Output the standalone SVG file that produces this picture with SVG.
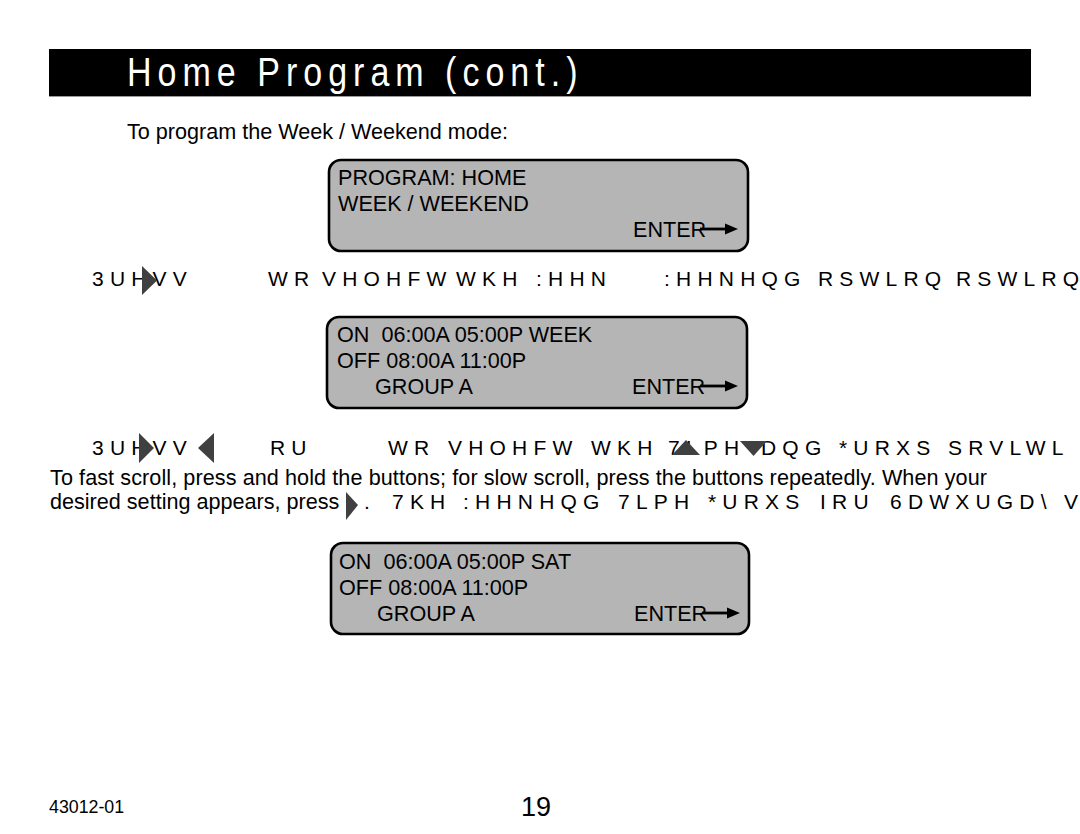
<svg xmlns="http://www.w3.org/2000/svg" width="1080" height="834" viewBox="0 0 1080 834">
<style>
.t{font-family:"Liberation Sans",Arial,Helvetica,sans-serif;font-size:21.6px;fill:#000}
.g{font-family:"Liberation Sans",Arial,Helvetica,sans-serif;font-size:21px;letter-spacing:6.2px;fill:#000}
.lcd{fill:#b5b5b5;stroke:#000;stroke-width:2.6}
.tri{fill:#404040}
.title{font-family:"Liberation Sans",Arial,Helvetica,sans-serif;font-size:40px;fill:#fff}
.foot{font-family:"Liberation Sans",Arial,Helvetica,sans-serif;fill:#000}
</style>
<defs>
<g id="enterArrow"><rect x="0" y="-1.4" width="27" height="2.8" fill="#000"/><polygon points="25,-5.5 38,0 25,5.5" fill="#000"/></g>
</defs>
<rect x="0" y="0" width="1080" height="834" fill="#fff"/>
<g id="title">
<rect x="49" y="49" width="982" height="47" fill="#000"/>
<line x1="49" y1="96.5" x2="1031" y2="96.5" stroke="#999" stroke-width="1"/>
<g transform="translate(127,86) scale(0.85,1)">
<text class="title" x="0" y="0" textLength="530">Home Program (cont.)</text>
</g>
</g>
<text class="t" x="127" y="139">To program the Week / Weekend mode:</text>

<g id="lcd1">
<rect class="lcd" x="329" y="160" width="419" height="91" rx="12"/>
<text class="t" x="338" y="185">PROGRAM: HOME</text>
<text class="t" x="338" y="211">WEEK / WEEKEND</text>
<text class="t" x="633" y="237">ENTER</text>
<use href="#enterArrow" x="700" y="229"/>
</g>

<g id="step1">
<text class="g" y="286"><tspan x="92">3UHVV</tspan><tspan x="268">WR</tspan><tspan x="322">VHOHFW</tspan><tspan x="456">WKH</tspan><tspan x="536">:HHN</tspan><tspan x="664">:HHNHQG</tspan><tspan x="818">RSWLRQ</tspan><tspan x="956">RSWLRQ</tspan></text>
<polygon class="tri" points="142,266 157,280.5 142,295"/>
</g>

<g id="lcd2">
<rect class="lcd" x="327" y="317" width="420" height="91" rx="12"/>
<text class="t" x="337" y="342" xml:space="preserve">ON  06:00A 05:00P WEEK</text>
<text class="t" x="337" y="368">OFF 08:00A 11:00P</text>
<text class="t" x="375" y="394">GROUP A</text>
<text class="t" x="632" y="394">ENTER</text>
<use href="#enterArrow" x="700" y="386"/>
</g>

<g id="step2">
<text class="g" y="455"><tspan x="92">3UHVV</tspan><tspan x="270">RU</tspan><tspan x="388">WR</tspan><tspan x="448">VHOHFW</tspan><tspan x="591">WKH</tspan><tspan x="668">7LPH</tspan><tspan x="761">DQG</tspan><tspan x="839">*URXS</tspan><tspan x="948">SRVLWL</tspan></text>
<polygon class="tri" points="139,433 154,448 139,463"/>
<polygon class="tri" points="214,433 198,448 214,463"/>
<polygon class="tri" points="672,455 686,440 700,455"/>
<polygon class="tri" points="740,441 767,441 753.5,456"/>
<text class="t" x="50" y="485" textLength="937">To fast scroll, press and hold the buttons; for slow scroll, press the buttons repeatedly. When your</text>
<text class="t" x="50" y="509">desired setting appears, press</text>
<polygon class="tri" points="346,492 358,505 346,520"/>
<text class="g" y="509"><tspan x="364">.</tspan><tspan x="392">7KH</tspan><tspan x="463">:HHNHQG</tspan><tspan x="618">7LPH</tspan><tspan x="708">*URXS</tspan><tspan x="820">IRU</tspan><tspan x="890">6DWXUGD\</tspan><tspan x="1064">V</tspan></text>
</g>

<g id="lcd3">
<rect class="lcd" x="331" y="543" width="418" height="91" rx="12"/>
<text class="t" x="339" y="569" xml:space="preserve">ON  06:00A 05:00P SAT</text>
<text class="t" x="339" y="595">OFF 08:00A 11:00P</text>
<text class="t" x="377" y="621">GROUP A</text>
<text class="t" x="634" y="621">ENTER</text>
<use href="#enterArrow" x="702" y="613"/>
</g>

<g id="connectors"></g>

<g id="footer">
<text class="foot" x="49" y="813" font-size="17.8">43012-01</text>
<text class="foot" x="521" y="816" font-size="27">19</text>
</g>
</svg>
